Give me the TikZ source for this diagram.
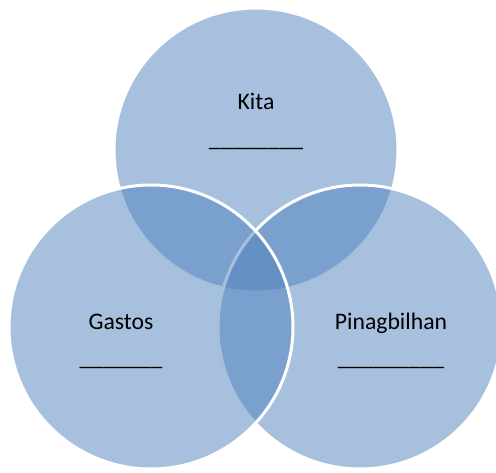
\documentclass[tikz,border=0pt]{standalone}
\usepackage{fontspec}
\setmainfont{Carlito}
\usepackage{xcolor}
\definecolor{vennblue}{HTML}{4F81BD}

\begin{document}
\begin{tikzpicture}[x=1pt,y=-1pt,
  venn/.style={circle,fill=vennblue,fill opacity=0.5,draw=white,draw opacity=1,line width=3pt,minimum size=284pt,inner sep=0pt},
  lbl/.style={anchor=base,inner sep=0pt,font=\fontsize{23.7}{28}\selectfont}]
\useasboundingbox (0,0) rectangle (496,473);
\clip (0,0) rectangle (496,473);
\node[venn] (kita) at (256,150) {};
\node[venn] (pinagbilhan) at (360,327) {};
\node[venn] (gastos) at (151,327) {};
\node[lbl] (kitaText) at (256,110) {Kita};
\node[lbl] (kitaLine) at (256,147) {\_\_\_\_\_\_\_\_};
\node[lbl] (gastosText) at (121,330) {Gastos};
\node[lbl] (gastosLine) at (121,366) {\_\_\_\_\_\_\_};
\node[lbl] (pinagText) at (391,330) {Pinagbilhan};
\node[lbl] (pinagLine) at (391,366) {\_\_\_\_\_\_\_\_\_};
\end{tikzpicture}
\end{document}
